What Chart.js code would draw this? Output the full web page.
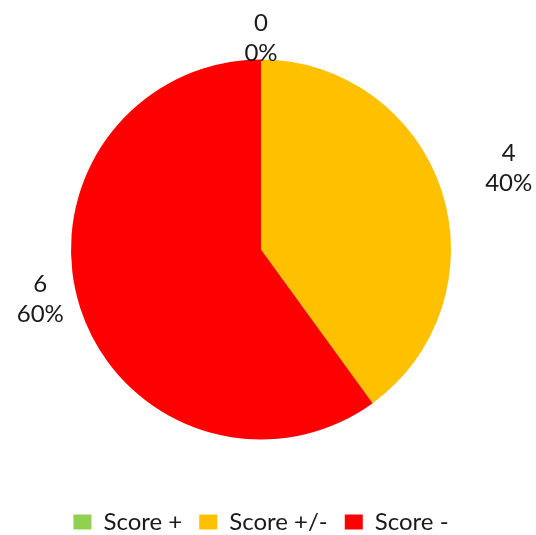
<!DOCTYPE html>
<html>
<head>
<meta charset="utf-8">
<script src="https://cdn.jsdelivr.net/npm/chart.js@4"></script>
<style>
  html, body { margin: 0; padding: 0; background: #fff; }
  #wrap { width: 536px; height: 535px; position: relative; }
</style>
</head>
<body>
<div id="wrap"><canvas id="grafica"></canvas></div>
<script>
const categorias = ['Score +', 'Score +/-', 'Score -'];
const valores = [0, 4, 6];
const colores = ['#92D050', '#FFC000', '#FF0000'];

// label nudges (px) after placing each label just outside its slice
const ajustes = [[0, -1], [48, -16], [-21, -15]];

const etiquetas = {
  id: 'etiquetas',
  afterDatasetsDraw(chart) {
    const ctx = chart.ctx;
    const meta = chart.getDatasetMeta(0);
    const total = valores.reduce((a, b) => a + b, 0);
    ctx.save();
    ctx.font = '24px Lato, "Liberation Sans", sans-serif';
    ctx.fillStyle = '#1a1a1a';
    ctx.textAlign = 'center';
    ctx.textBaseline = 'middle';
    meta.data.forEach((arc, i) => {
      const mid = (arc.startAngle + arc.endAngle) / 2;
      const d = arc.outerRadius + 20;
      const x = arc.x + Math.cos(mid) * d + ajustes[i][0];
      const y = arc.y + Math.sin(mid) * d + ajustes[i][1];
      const pct = Math.round(valores[i] / total * 100) + '%';
      ctx.fillText(String(valores[i]), x, y - 15);
      ctx.fillText(pct, x, y + 15);
    });
    ctx.restore();
  }
};

new Chart(document.getElementById('grafica').getContext('2d'), {
  type: 'pie',
  data: {
    labels: categorias,
    datasets: [{
      data: valores,
      backgroundColor: colores,
      borderWidth: 0,
      radius: 190
    }]
  },
  options: {
    responsive: true,
    maintainAspectRatio: false,
    animation: false,
    layout: { padding: { top: 6, left: 0, right: 14, bottom: -9 } },
    plugins: {
      tooltip: { enabled: false },
      legend: {
        position: 'bottom',
        labels: {
          boxWidth: 18,
          boxHeight: 15,
          padding: 17,
          color: '#1a1a1a',
          font: { family: 'Lato, "Liberation Sans", sans-serif', size: 24 }
        }
      }
    }
  },
  plugins: [etiquetas]
});
</script>
</body>
</html>
